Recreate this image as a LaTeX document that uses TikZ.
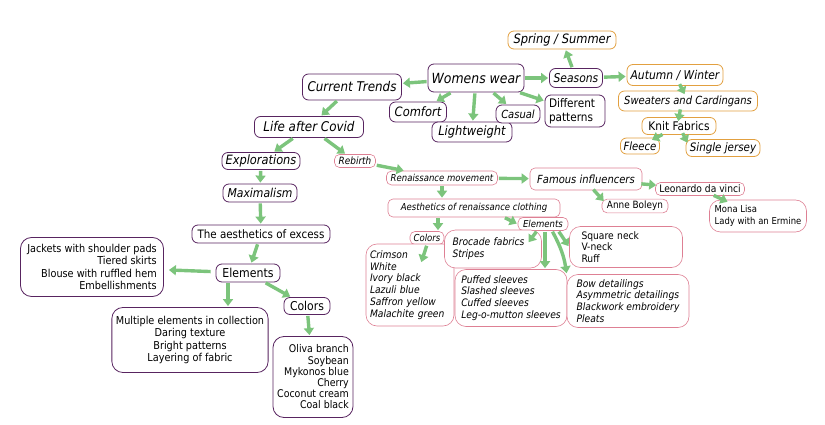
\documentclass[tikz,border=0pt]{standalone}
\usepackage{fontspec}
\setmainfont{DejaVu Sans}[FakeStretch=0.89]
\usetikzlibrary{arrows.meta}
\definecolor{ppurple}{RGB}{88,36,96}
\definecolor{porange}{RGB}{226,160,64}
\definecolor{ppink}{RGB}{222,128,148}
\definecolor{agreen}{RGB}{124,196,124}
\newcommand{\fs}[2]{\fontsize{#1}{#2}\selectfont}
\tikzset{
  pbox/.style={draw=ppurple, line width=0.8pt, fill=white, rounded corners=6pt, inner sep=2pt},
  obox/.style={pbox, draw=porange},
  kbox/.style={pbox, draw=ppink, line width=0.6pt, rounded corners=5pt},
  blob/.style={rounded corners=11pt},
  arr/.style={draw=agreen, line width=3.4pt, -{Triangle[length=7pt,width=10pt]}, shorten <=1pt, shorten >=1pt},
}
\begin{document}
\begin{tikzpicture}[x=1pt, y=-1pt]
\useasboundingbox (0,0) rectangle (825,425);

% Womens wear and first branches
\node[pbox, minimum width=96pt, minimum height=28pt, font=\fs{14}{16}\itshape] (ww) at (476,78) {Womens wear};
\node[pbox, minimum width=99pt, minimum height=26pt, font=\fs{13.4}{16}\itshape] (trends) at (352,87) {Current Trends};
\node[pbox, minimum width=57pt, minimum height=20pt, font=\fs{12.9}{15}\itshape] (comfort) at (418,112) {Comfort};
\node[pbox, minimum width=80pt, minimum height=20pt, font=\fs{12.9}{15}\itshape] (light) at (472,132) {Lightweight};
\node[pbox, minimum width=44pt, minimum height=18pt, font=\fs{11.2}{13}\itshape] (casual) at (518,114) {Casual};
\node[pbox, inner xsep=4pt, text width=52pt, align=left, minimum height=32pt, font=\fs{11.8}{14}] (patterns) at (575,111) {Different\\patterns};
\node[pbox, minimum width=53pt, minimum height=19pt, font=\fs{12.1}{14}\itshape] (seasons) at (576,78) {Seasons};

% Seasons
\node[obox, minimum width=108pt, minimum height=18pt, font=\fs{12.9}{15}\itshape] (spring) at (562,40) {Spring / Summer};
\node[obox, minimum width=96pt, minimum height=21pt, font=\fs{12.1}{14}\itshape] (autumn) at (675,75) {Autumn / Winter};
\node[obox, minimum width=139pt, minimum height=20pt, font=\fs{11.2}{13}\itshape] (sweaters) at (688,101) {Sweaters and Cardingans};
\node[obox, minimum width=74pt, minimum height=17pt, font=\fs{11.9}{14}] (knit) at (679,126) {Knit Fabrics};
\node[obox, minimum width=39pt, minimum height=16pt, font=\fs{11.4}{13}\itshape] (fleece) at (640,146) {Fleece};
\node[obox, minimum width=74pt, minimum height=17pt, font=\fs{11.6}{13}\itshape] (jersey) at (723,148) {Single jersey};

% Life after Covid, left side
\node[pbox, minimum width=109pt, minimum height=21pt, font=\fs{13.4}{15}\itshape] (covid) at (309,127) {Life after Covid};
\node[pbox, minimum width=78pt, minimum height=17pt, font=\fs{12.8}{14}\itshape] (explor) at (261,161) {Explorations};
\node[pbox, minimum width=74pt, minimum height=18pt, font=\fs{12.2}{14}\itshape] (maxim) at (260,193) {Maximalism};
\node[pbox, minimum width=138pt, minimum height=18pt, font=\fs{11.6}{13}] (excess) at (261,234) {The aesthetics of excess};
\node[pbox, minimum width=64pt, minimum height=18pt, font=\fs{12.3}{14}] (elemL) at (248,273) {Elements};
\node[pbox, minimum width=46pt, minimum height=17pt, font=\fs{12.2}{14}] (colorsL) at (307,306) {Colors};
\node[pbox, blob, inner xsep=4pt, align=right, minimum width=143pt, minimum height=59pt, font=\fs{10.9}{12.4}] (jackets) at (92,267) {Jackets with shoulder pads\\Tiered skirts\\Blouse with ruffled hem\\Embellishments};
\node[pbox, blob, inner xsep=4pt, align=center, minimum width=156pt, minimum height=65pt, font=\fs{10.9}{12.4}] (multiple) at (190,340) {Multiple elements in collection\\Daring texture\\Bright patterns\\Layering of fabric};
\node[pbox, blob, inner xsep=4pt, align=right, minimum width=80pt, minimum height=81pt, font=\fs{10.6}{11.2}] (oliva) at (313,377) {Oliva branch\\Soybean\\Mykonos blue\\Cherry\\Coconut cream\\Coal black};

% Rebirth, pink side
\node[kbox, minimum width=41pt, minimum height=13pt, font=\fs{10}{12}\itshape] (rebirth) at (355,161) {Rebirth};
\node[kbox, minimum width=111pt, minimum height=14pt, font=\fs{9.6}{11}\itshape] (renmov) at (442,178) {Renaissance movement};
\node[kbox, minimum width=112pt, minimum height=22pt, font=\fs{11.2}{13}\itshape] (famous) at (586,179) {Famous influencers};
\node[kbox, minimum width=172pt, minimum height=18pt, font=\fs{9.6}{11}\itshape] (aesth) at (474,208) {Aesthetics of renaissance clothing};
\node[kbox, minimum width=50pt, minimum height=13pt, font=\fs{9.6}{11}\itshape] (elemP) at (543,224) {Elements};
\node[kbox, minimum width=89pt, minimum height=13pt, font=\fs{10.3}{12}] (leonardo) at (700,189) {Leonardo da vinci};
\node[kbox, minimum width=66pt, minimum height=13pt, font=\fs{10}{12}] (anne) at (635,206) {Anne Boleyn};
\node[kbox, blob, inner xsep=4pt, align=left, minimum width=97pt, minimum height=32pt, font=\fs{9.5}{11.7}] (mona) at (758,216) {Mona Lisa\\Lady with an Ermine};
\node[kbox, minimum width=34pt, minimum height=13pt, font=\fs{9.6}{11}\itshape] (colorsP) at (427,238) {Colors};
\node[kbox, blob, inner xsep=4pt, text width=80pt, align=left, minimum height=82pt, font=\fs{10.3}{11.7}\itshape] (crimson) at (410,285) {Crimson\\White\\Ivory black\\Lazuli blue\\Saffron yellow\\Malachite green};
\node[kbox, blob, inner xsep=8pt, text width=81pt, align=left, minimum height=38pt, font=\fs{10.3}{11.7}\itshape] (brocade) at (493,249) {Brocade fabrics\\Stripes};
\node[kbox, blob, inner xsep=5pt, align=left, minimum width=112pt, minimum height=57pt, font=\fs{10.3}{11.7}\itshape] (puffed) at (511,298) {Puffed sleeves\\Slashed sleeves\\Cuffed sleeves\\Leg-o-mutton sleeves};
\node[kbox, blob, inner xsep=12pt, text width=89pt, align=left, minimum height=41pt, font=\fs{10.3}{11.7}] (square) at (626,247) {Square neck\\V-neck\\Ruff};
\node[kbox, blob, inner xsep=5pt, align=left, minimum width=122pt, minimum height=53pt, font=\fs{10.3}{11.7}\itshape] (bow) at (628,301) {Bow detailings\\Asymmetric detailings\\Blackwork embroidery\\Pleats};

% Free arrow ends inside the blobs
\coordinate (crimsonin) at (421,263);
\coordinate (brocin) at (528,243);

% Arrows
\draw[arr] (ww) -- (trends);
\draw[arr] (ww) -- (comfort);
\draw[arr] (ww) -- (light);
\draw[arr] (ww) -- (casual);
\draw[arr] (ww) -- (patterns);
\draw[arr] (ww) -- (seasons);
\draw[arr] (seasons) -- (spring);
\draw[arr] (seasons) -- (autumn);
\draw[arr, shorten <=-2pt, shorten >=-4pt] (autumn) -- (sweaters);
\draw[arr, shorten <=-2pt, shorten >=-4pt] ([xshift=-8pt]sweaters.south) -- (knit.north);
\draw[arr, shorten <=-1pt, shorten >=-5pt] (knit) -- (fleece);
\draw[arr, shorten <=-2pt, shorten >=-4pt] (knit) -- (jersey.north west);
\draw[arr] (trends) -- (covid);
\draw[arr] (covid) -- (explor);
\draw[arr] (covid) -- (rebirth);
\draw[arr] (explor) -- (maxim);
\draw[arr] (maxim) -- (excess);
\draw[arr] (excess) -- (elemL);
\draw[arr, shorten <=5pt, shorten >=5pt] (elemL) -- (jackets);
\draw[arr] ([xshift=-20pt]elemL.south) -- ([xshift=-20pt]elemL.south |- multiple.north);
\draw[arr] (elemL) -- (colorsL);
\draw[arr] (colorsL) -- (oliva);
\draw[arr] (rebirth) -- (renmov);
\draw[arr] (renmov) -- (famous);
\draw[arr] (renmov.south) -- (renmov.south |- aesth.north);
\draw[arr, shorten <=-1pt, shorten >=-3pt] ([xshift=8pt]famous.south) -- (anne.north west);
\draw[arr, shorten <=-1pt, shorten >=-1pt] (famous) -- (leonardo);
\draw[arr, shorten <=-1pt, shorten >=-5pt] (leonardo) -- (mona);
\draw[arr] ([xshift=30pt]aesth.south) -- (elemP.west);
\draw[arr] ([xshift=-36pt]aesth.south) -- ([xshift=-36pt]aesth.south |- colorsP.north);
\draw[arr] (colorsP.south) -- (crimsonin);
\draw[arr] ([xshift=-6pt]elemP.south) -- (brocin);
\draw[arr] ([xshift=2pt]elemP.south) -- ([xshift=2pt]elemP.south |- puffed.north);
\draw[arr] ([xshift=9pt]elemP.south) to[bend left=10] (bow.north west);
\draw[arr] ([xshift=-10pt]elemP.south east) -- (square.west);
\end{tikzpicture}
\end{document}
